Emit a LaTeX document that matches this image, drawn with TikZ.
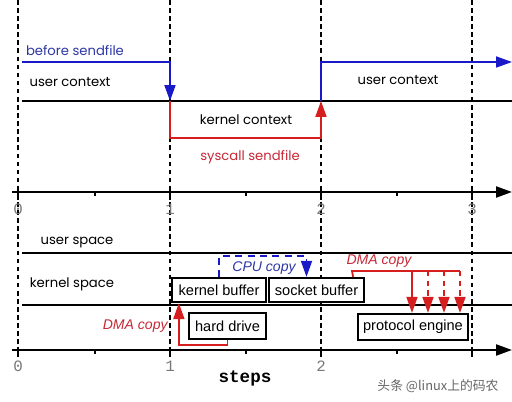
\documentclass[tikz,border=0pt]{standalone}
\usepackage{fontspec}
\setmainfont{Liberation Sans}
\setmonofont{Liberation Mono}
\newfontfamily\geofont{Poppins}
\newfontfamily\cjkfont{Noto Sans CJK SC}
\usetikzlibrary{arrows.meta}
\definecolor{lineblue}{RGB}{25,25,200}
\definecolor{linered}{RGB}{215,30,30}
\definecolor{textblue}{RGB}{45,55,165}
\definecolor{textred}{RGB}{200,40,55}
\definecolor{numgray}{RGB}{120,120,120}
\tikzset{
  vline/.style={black, line width=0.9pt, dash pattern=on 2.6pt off 2pt},
  hline/.style={black, line width=1.3pt},
  bluepath/.style={lineblue, line width=1pt},
  redpath/.style={linered, line width=1pt},
  boxnode/.style={draw, line width=1.3pt, fill=white, inner sep=0pt, font=\fontsize{8.3}{10}\selectfont},
  geo/.style={font=\geofont\fontsize{7.5}{9}\selectfont},
  num/.style={font=\ttfamily\fontsize{9}{10}\selectfont, text=numgray},
  copylbl/.style={font=\itshape\fontsize{8}{10}\selectfont},
  majortick/.style={black, line width=1.6pt},
  minortick/.style={black, line width=0.8pt}
}
\begin{document}
\begin{tikzpicture}[x=0.02cm,y=-0.02cm, >={Triangle[length=0.32cm,width=0.22cm]}]
\useasboundingbox[fill=white] (0,0) rectangle (512,402);

% dashed step lines
\foreach \x in {18,170,321,472} \draw[vline] (\x,0) -- (\x,350);

% horizontal lines
\coordinate (L1a) at (22,101); \coordinate (L1b) at (512,101);
\draw[hline] (L1a) -- (L1b);
\coordinate (L2a) at (22,253); \coordinate (L2b) at (512,253);
\draw[hline] (L2a) -- (L2b);
\coordinate (L3a) at (22,305); \coordinate (L3b) at (512,305);
\draw[hline] (L3a) -- (L3b);

% axes
\coordinate (A1a) at (12,192); \coordinate (A1b) at (512,192);
\draw[hline,->] (A1a) -- (A1b);
\coordinate (A2a) at (12,350); \coordinate (A2b) at (512,350);
\draw[hline,->] (A2a) -- (A2b);
\foreach \x in {18,170,321,472} \draw[majortick] (\x,190) -- (\x,200);
\foreach \x in {95,246,397} \draw[minortick] (\x,192) -- (\x,196);
\foreach \x in {18,170,321,472} \draw[majortick] (\x,347) -- (\x,357);
\foreach \x in {95,246,397} \draw[minortick] (\x,350) -- (\x,354);

\node[num] (n0) at (18,209) {0};
\node[num] (n1) at (170,209) {1};
\node[num] (n2) at (321,209) {2};
\node[num] (n3) at (472,209) {3};
\node[num] (m0) at (18,366) {0};
\node[num] (m1) at (170,366) {1};
\node[num] (m2) at (321,366) {2};

\node[font=\ttfamily\bfseries\fontsize{10}{12}\selectfont] (steps) at (245,378) {steps};

% top context labels
\node[geo, text=textblue] (bsf) at (75,51) {before sendfile};
\node[geo] (uc1) at (70,82) {user context};
\node[geo] (kc) at (246,120) {kernel context};
\node[geo, text=textred] (ss) at (250,157) {syscall sendfile};
\node[geo] (uc2) at (398,80) {user context};
\node[geo] (us) at (77,243) {user space};
\node[geo] (ks) at (72,284) {kernel space};

% context switch paths
\coordinate (b0) at (22,62); \coordinate (b1) at (170,62); \coordinate (t1) at (170,101);
\draw[bluepath,->] (b0) -- (b1) -- (t1);
\coordinate (r1) at (170,138); \coordinate (r2) at (321,138); \coordinate (t2) at (321,101);
\draw[redpath,->] (t1) -- (r1) -- (r2) -- (t2);
\coordinate (b2) at (321,62); \coordinate (b3) at (512,62);
\draw[bluepath,->] (t2) -- (b2) -- (b3);

% boxes
\node[boxnode, minimum width=1.88cm, minimum height=0.48cm] (kb) at (219,290) {kernel buffer};
\node[boxnode, minimum width=1.90cm, minimum height=0.48cm] (sb) at (316.5,290) {socket buffer};
\node[boxnode, minimum width=1.54cm, minimum height=0.52cm] (hd) at (227.5,326) {hard drive};
\node[boxnode, minimum width=2.20cm, minimum height=0.52cm] (pe) at (413,327) {protocol engine};

% DMA copy: hard drive -> kernel buffer
\draw[redpath,->] (hd.south) -- ++(0,5) -| ([xshift=0.16cm]kb.south west);
\node[copylbl, text=textred, anchor=east, inner sep=0pt] (dma1) at (168,326) {DMA copy};

% CPU copy: kernel buffer -> socket buffer
\draw[bluepath, dash pattern=on 4pt off 3pt, ->] (kb.north) -- ++(0,-20.5) -| ([xshift=-0.2cm]sb.north);
\node[copylbl, text=textblue] (cpu) at (264,268) {CPU copy};

% DMA copy: socket buffer -> protocol engine
\coordinate (d0) at (352,271); \coordinate (d4) at (460,271);
\draw[redpath] ([xshift=-0.24cm]sb.north east) -- (d0) -- (d4);
\coordinate (d1) at (412,271); \coordinate (d2) at (428,271); \coordinate (d3) at (444,271);
\draw[redpath,->] (d1) -- (d1 |- pe.north);
\draw[redpath,dash pattern=on 3pt off 2.5pt,->] (d2) -- (d2 |- pe.north);
\draw[redpath,dash pattern=on 3pt off 2.5pt,->] (d3) -- (d3 |- pe.north);
\draw[redpath,dash pattern=on 3pt off 2.5pt,->] (d4) -- (d4 |- pe.north);
\node[copylbl, text=textred] (dma2) at (379,261) {DMA copy};

% watermark
\node[font=\cjkfont\fontsize{7.3}{9}\selectfont, text=black!60] (wm) at (438,386) {头条 @linux上的码农};
\end{tikzpicture}
\end{document}
